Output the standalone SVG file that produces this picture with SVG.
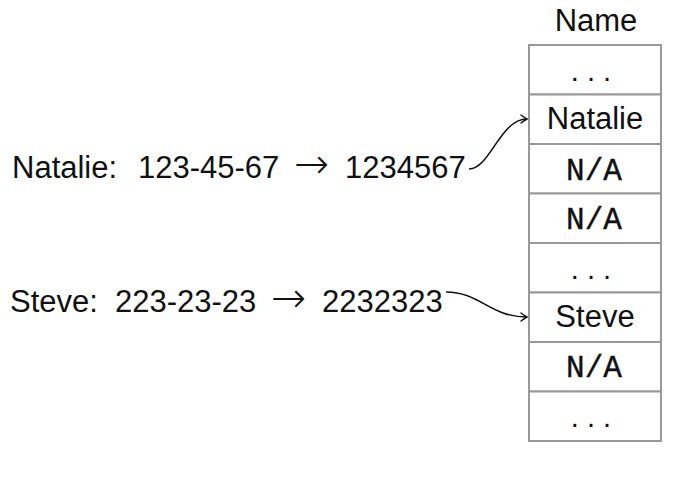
<svg xmlns="http://www.w3.org/2000/svg" width="677" height="481" viewBox="0 0 677 481">
<style>
.t{font-family:"Liberation Sans",Arial,sans-serif;font-size:31px;fill:#111}
.c{text-anchor:middle}
.a{font-family:"DejaVu Sans",sans-serif;font-size:42px;font-weight:200}
.m{font-family:"Liberation Mono","Courier New",monospace;font-size:31px;fill:#111;stroke:#111;stroke-width:0.4;text-anchor:middle}
.d{font-family:"Liberation Sans",Arial,sans-serif;font-size:29px;fill:#111;text-anchor:middle}
.cell{fill:#fff;stroke:#999;stroke-width:2}
.conn{fill:none;stroke:#111;stroke-width:1.6}
</style>
<defs>
<marker id="ah" viewBox="-8 -5 10 10" markerWidth="10" markerHeight="10" refX="0" refY="0" orient="auto" markerUnits="userSpaceOnUse">
<path d="M-6,-4 Q-2,-1 0,0 Q-2,1 -6,4" fill="none" stroke="#111" stroke-width="1.4" stroke-linecap="round"/>
</marker>
</defs>
<rect width="677" height="481" fill="#fff"/>
<g id="header"><text class="t c" x="596" y="31">Name</text></g>
<g id="table">
<g id="row1"><rect class="cell" x="529" y="45" width="132" height="49.5"/><text class="d" x="591" y="81">. . .</text></g>
<g id="row2"><rect class="cell" x="529" y="94.5" width="132" height="49.5"/><text class="t c" x="595" y="129">Natalie</text></g>
<g id="row3"><rect class="cell" x="529" y="144" width="132" height="49.5"/><text class="m" x="594" y="180">N/A</text></g>
<g id="row4"><rect class="cell" x="529" y="193.5" width="132" height="49.5"/><text class="m" x="594" y="229">N/A</text></g>
<g id="row5"><rect class="cell" x="529" y="243" width="132" height="49.5"/><text class="d" x="591" y="279">. . .</text></g>
<g id="row6"><rect class="cell" x="529" y="292.5" width="132" height="49.5"/><text class="t c" x="595" y="327">Steve</text></g>
<g id="row7"><rect class="cell" x="529" y="342" width="132" height="49.5"/><text class="m" x="594" y="377">N/A</text></g>
<g id="row8"><rect class="cell" x="529" y="391.5" width="132" height="49.5"/><text class="d" x="591" y="427">. . .</text></g>
</g>
<g id="natalie"><text class="t" y="178"><tspan x="12">Natalie:</tspan><tspan x="138">123-45-67</tspan><tspan class="a" x="294">→</tspan><tspan x="345">1234567</tspan></text></g>
<g id="steve"><text class="t" y="312"><tspan x="10">Steve:</tspan><tspan x="115">223-23-23</tspan><tspan class="a" x="271">→</tspan><tspan x="322">2232323</tspan></text></g>
<g id="connectors">
<path class="conn" d="M469,169 C490,169 500,119 527,119" marker-end="url(#ah)"/>
<path class="conn" d="M446,292 C480,292 490,317 527,317" marker-end="url(#ah)"/>
</g>
</svg>
